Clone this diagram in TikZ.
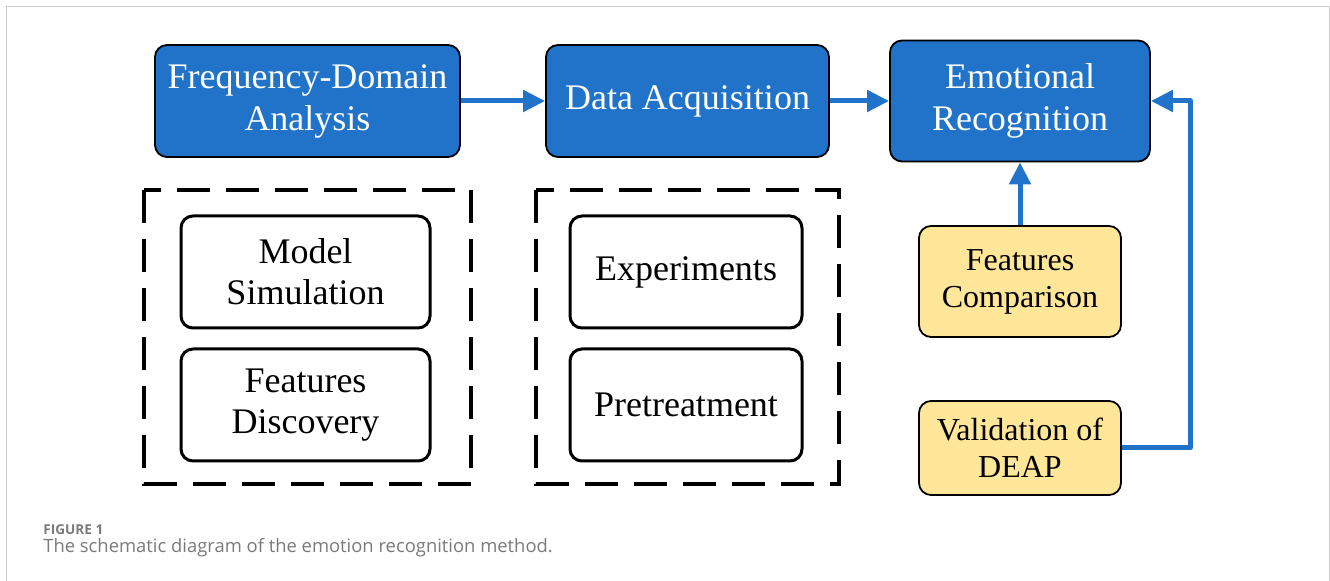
\documentclass[tikz,border=0pt]{standalone}
\usepackage{fontspec}
\setmainfont{Liberation Serif}
\newfontfamily\capfont{Open Sans}
\usetikzlibrary{arrows.meta,positioning}
\definecolor{boxblue}{HTML}{2173C9}
\definecolor{boxyellow}{HTML}{FFE699}
\definecolor{framegray}{HTML}{CCCCCC}
\definecolor{capgray}{HTML}{7A7A7A}

\begin{document}
\begin{tikzpicture}[x=0.5pt,y=-0.5pt,
	blueblock/.style={draw=black,line width=0.9pt,fill=boxblue,text=white,rounded corners=6pt,
		align=center,inner sep=0pt,font=\fontsize{18}{21}\selectfont},
	plainblock/.style={draw=black,line width=1.5pt,fill=white,rounded corners=6pt,
		align=center,inner sep=0pt,minimum width=124.5pt,minimum height=56pt,font=\fontsize{18}{20.5}\selectfont},
	yellowblock/.style={draw=black,line width=0.9pt,fill=boxyellow,rounded corners=6pt,
		align=center,inner sep=0pt,minimum width=101pt,font=\fontsize{16}{18.5}\selectfont},
	group/.style={draw=black,line width=2pt,dash pattern=on 16.5pt off 8pt},
	flow/.style={draw=boxblue,line width=2.5pt,line join=round,-{Triangle[length=11pt,width=10.5pt]}}
	]
	\useasboundingbox (0,0) rectangle (1330,581);
	\draw[framegray,line width=0.5pt] (6,581) -- (6,7) -- (1329,7) -- (1329,581);

	% top row
	\node[blueblock,minimum width=152.5pt,minimum height=56pt] (freq) at (307.5,101) {Frequency-Domain\\Analysis};
	\node[blueblock,minimum width=141.5pt,minimum height=56pt] (acq) at (687.5,101) {Data Acquisition};
	\node[blueblock,minimum width=130pt,minimum height=60.5pt] (emo) at (1020,101) {Emotional\\Recognition};

	% dashed groups
	\draw[group] (144,190) rectangle (471,484);
	\draw[group] (536,190) rectangle (839,484);
	\node[plainblock] (model) at (305.5,272) {Model\\Simulation};
	\node[plainblock] (disc) at (305.5,405) {Features\\Discovery};
	\node[plainblock,minimum width=116pt] (exp) at (686,272) {Experiments};
	\node[plainblock,minimum width=116pt] (pre) at (686,405) {Pretreatment};

	% right column
	\node[yellowblock,minimum height=55.5pt] (comp) at (1020,281.5) {Features\\Comparison};
	\node[yellowblock,minimum height=47pt] (val) at (1020,448) {Validation of\\DEAP};

	\draw[flow] (freq) -- (acq);
	\draw[flow] (acq) -- (emo);
	\draw[flow] (comp) -- (emo);
	\coordinate (turn) at (1190,101);
	\draw[flow] (val.east) -| (turn) -- (emo.east);

	% caption
	\node[anchor=base west,inner sep=0pt,text=capgray,font=\capfont\bfseries\fontsize{6.8}{8}\selectfont] (fignum) at (43,535) {FIGURE 1};
	\node[anchor=base west,inner sep=0pt,text=capgray,font=\capfont\fontsize{9.2}{10}\selectfont] (figcap) at (43,553) {The schematic diagram of the emotion recognition method.};
\end{tikzpicture}
\end{document}
